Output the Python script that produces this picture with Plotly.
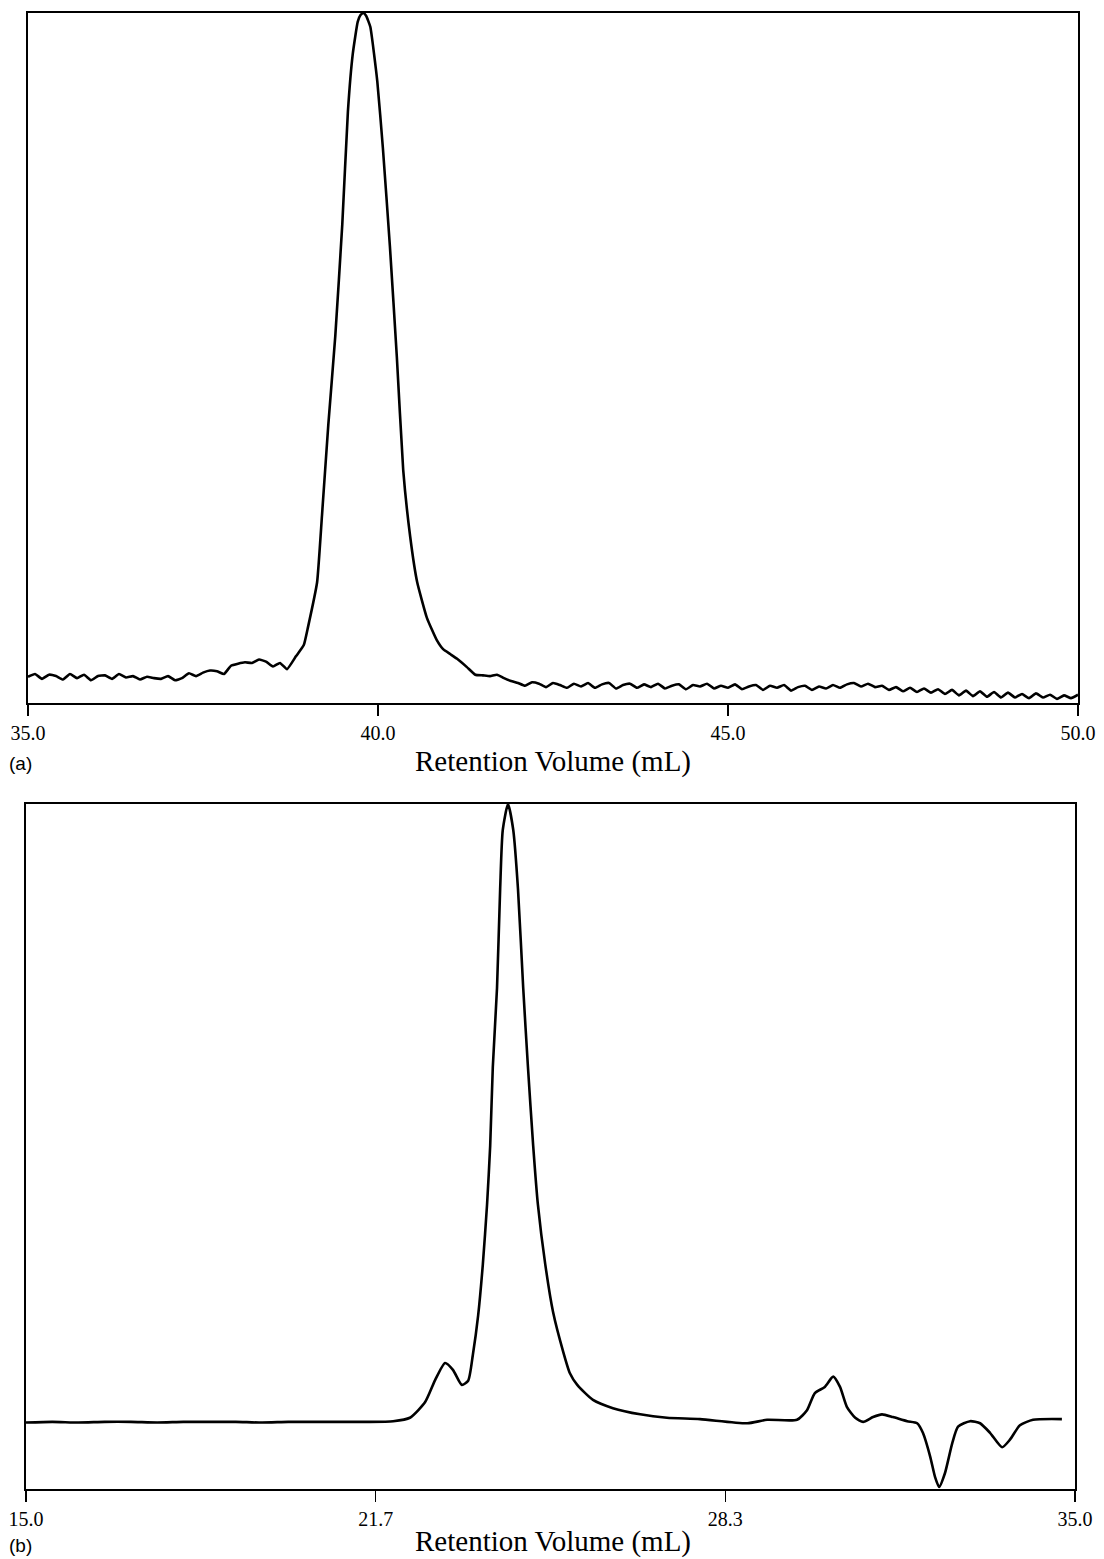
import plotly.graph_objects as go

W, H = 1104, 1559

# ---------------- Panel (a) data ----------------
a_base_left_x = [35.0, 35.1, 35.2, 35.3, 35.4, 35.5, 35.6, 35.7, 35.8, 35.9,
                 36.0, 36.1, 36.2, 36.3, 36.4, 36.5, 36.6, 36.7, 36.8, 36.9,
                 37.0, 37.1, 37.2, 37.3, 37.4, 37.5, 37.6, 37.7, 37.8, 37.9,
                 38.0, 38.1, 38.2, 38.3, 38.4, 38.5, 38.6, 38.7]
a_base_left_y = [3.8, 4.2, 3.5, 4.1, 3.9, 3.4, 4.2, 3.6, 4.1, 3.3,
                 3.9, 4.0, 3.5, 4.2, 3.7, 3.9, 3.4, 3.8, 3.6, 3.5,
                 3.9, 3.3, 3.6, 4.3, 3.9, 4.4, 4.7, 4.6, 4.2, 5.4,
                 5.7, 5.9, 5.8, 6.3, 6.0, 5.3, 5.8, 4.9]

a_peak_x = [38.83, 38.94, 39.00, 39.13, 39.20, 39.29, 39.39, 39.49, 39.57, 39.64,
            39.71, 39.75, 39.79, 39.83, 39.89, 39.99, 40.07, 40.17, 40.27, 40.36,
            40.46, 40.56, 40.70, 40.84, 40.93, 41.03, 41.13, 41.27, 41.39]
a_peak_y = [6.8, 8.4, 11.0, 17.5, 27.2, 40.3, 53.2, 69.4, 85.7, 94.1,
            98.7, 99.7, 100.0, 99.6, 98.0, 90.1, 80.4, 66.2, 50.0, 33.8,
            24.1, 17.5, 12.3, 9.1, 7.8, 7.1, 6.4, 5.2, 4.1]

a_base_right_x = [41.5, 41.6, 41.7, 41.8, 41.9,
                  42.0, 42.1, 42.2, 42.3, 42.4, 42.5, 42.6, 42.7, 42.8, 42.9,
                  43.0, 43.1, 43.2, 43.3, 43.4, 43.5, 43.6, 43.7, 43.8, 43.9,
                  44.0, 44.1, 44.2, 44.3, 44.4, 44.5, 44.6, 44.7, 44.8, 44.9,
                  45.0, 45.1, 45.2, 45.3, 45.4, 45.5, 45.6, 45.7, 45.8, 45.9,
                  46.0, 46.1, 46.2, 46.3, 46.4, 46.5, 46.6, 46.7, 46.8, 46.9,
                  47.0, 47.1, 47.2, 47.3, 47.4, 47.5, 47.6, 47.7, 47.8, 47.9,
                  48.0, 48.1, 48.2, 48.3, 48.4, 48.5, 48.6, 48.7, 48.8, 48.9,
                  49.0, 49.1, 49.2, 49.3, 49.4, 49.5, 49.6, 49.7, 49.8, 49.9, 50.0]
a_base_right_y = [4.0, 3.9, 4.1, 3.6, 3.2,
                  2.9, 2.5, 3.0, 2.8, 2.3, 2.9, 2.6, 2.2, 2.8, 2.4,
                  2.9, 2.2, 2.7, 2.9, 2.1, 2.6, 2.8, 2.2, 2.7, 2.3,
                  2.8, 2.1, 2.5, 2.7, 2.0, 2.6, 2.4, 2.8, 2.1, 2.5,
                  2.2, 2.7, 2.0, 2.4, 2.6, 1.9, 2.5, 2.2, 2.6, 1.8,
                  2.3, 2.5, 1.9, 2.4, 2.1, 2.6, 2.2, 2.7, 2.9, 2.4,
                  2.8, 2.3, 2.5, 1.9, 2.3, 1.7, 2.2, 1.6, 2.1, 1.5,
                  2.0, 1.3, 1.9, 1.1, 1.8, 1.0, 1.7, 0.9, 1.6, 0.8,
                  1.5, 0.8, 1.3, 0.7, 1.4, 0.8, 1.2, 0.6, 1.1, 0.7, 1.2]

a_x = a_base_left_x + a_peak_x + a_base_right_x
a_y = a_base_left_y + a_peak_y + a_base_right_y

a_tickvals = [35.0, 40.0, 45.0, 50.0]
a_ticktext = ["35.0", "40.0", "45.0", "50.0"]

# ---------------- Panel (b) data ----------------
b_x = [15.0, 15.5, 16.0, 16.5, 17.0, 17.5, 18.0, 18.5, 19.0, 19.5,
       20.0, 20.5, 21.0, 21.5, 22.0, 22.32, 22.61, 22.80, 22.99, 23.14,
       23.31, 23.43, 23.52, 23.62, 23.71, 23.79, 23.85, 23.90, 23.98, 24.04,
       24.09, 24.19, 24.29, 24.38, 24.48, 24.57, 24.67, 24.76, 24.90, 25.05,
       25.24, 25.37, 25.51, 25.81, 26.19, 26.71, 27.22, 27.85, 28.75, 29.13,
       29.70, 29.89, 30.04, 30.23, 30.39, 30.52, 30.65, 30.81, 30.96, 31.15,
       31.32, 31.53, 31.80, 31.99, 32.10, 32.24, 32.33, 32.41, 32.52, 32.66,
       32.77, 33.00, 33.19, 33.38, 33.61, 33.76, 33.95, 34.20, 34.75]
b_y = [9.7, 9.8, 9.7, 9.8, 9.8, 9.7, 9.8, 9.8, 9.8, 9.7,
       9.8, 9.8, 9.8, 9.8, 9.9, 10.4, 12.7, 15.9, 18.4, 17.4,
       15.2, 15.8, 19.6, 25.3, 32.8, 41.5, 50.1, 61.6, 73.1, 87.6,
       96.2, 100.0, 96.2, 87.6, 73.1, 61.6, 50.1, 41.5, 32.8, 25.8,
       20.1, 16.9, 15.2, 13.0, 11.8, 10.9, 10.4, 10.2, 9.6, 10.1,
       10.1, 11.5, 14.0, 14.9, 16.4, 14.9, 12.0, 10.4, 9.8, 10.5,
       10.9, 10.5, 9.9, 9.6, 8.2, 4.7, 1.8, 0.3, 2.3, 6.7,
       9.1, 9.9, 9.6, 8.2, 6.1, 7.2, 9.3, 10.1, 10.2]

b_tickvals = [15.0, 15.0 + 20.0 / 3, 15.0 + 40.0 / 3, 35.0]
b_ticktext = ["15.0", "21.7", "28.3", "35.0"]

x_title = "Retention Volume (mL)"

# ---------------- Figure ----------------
fig = go.Figure()
fig.add_trace(go.Scatter(x=a_x, y=a_y, mode="lines",
                         line=dict(color="black", width=2.6, shape="spline", smoothing=0.4),
                         xaxis="x", yaxis="y", hoverinfo="skip"))
fig.add_trace(go.Scatter(x=b_x, y=b_y, mode="lines",
                         line=dict(color="black", width=2.6, shape="spline", smoothing=0.6),
                         xaxis="x2", yaxis="y2", hoverinfo="skip"))


def px_x(p):
    return p / W


def px_y(p):
    return 1 - p / H


tickfont = dict(family="Liberation Serif", size=20, color="black")
common_x = dict(showline=True, linecolor="black", linewidth=2, mirror=True,
                ticks="outside", ticklen=11, tickwidth=1.5, tickcolor="black",
                showgrid=False, zeroline=False, tickfont=tickfont, automargin=False)
common_y = dict(showline=True, linecolor="black", linewidth=2, mirror=True,
                showticklabels=False, ticks="", showgrid=False, zeroline=False,
                range=[0, 100], automargin=False)

fig.update_layout(
    template="none",
    width=W, height=H,
    margin=dict(l=0, r=0, t=0, b=0, pad=0),
    paper_bgcolor="white", plot_bgcolor="white",
    showlegend=False,
    xaxis=dict(domain=[px_x(28), px_x(1078)], range=[35, 50],
               tickvals=a_tickvals, ticktext=a_ticktext, anchor="y", **common_x),
    yaxis=dict(domain=[px_y(703), px_y(13)], anchor="x", **common_y),
    xaxis2=dict(domain=[px_x(26), px_x(1075)], range=[15, 35],
                tickvals=b_tickvals, ticktext=b_ticktext, anchor="y2", **common_x),
    yaxis2=dict(domain=[px_y(1489), px_y(804)], anchor="x2", **common_y),
)

titlefont = dict(family="Liberation Serif", size=29, color="black")
labfont = dict(family="Liberation Sans", size=19, color="black")
fig.add_annotation(text=x_title, x=px_x(553), y=px_y(761), xref="paper", yref="paper",
                   showarrow=False, xanchor="center", yanchor="middle", font=titlefont)
fig.add_annotation(text=x_title, x=px_x(553), y=px_y(1541), xref="paper", yref="paper",
                   showarrow=False, xanchor="center", yanchor="middle", font=titlefont)
fig.add_annotation(text="(a)", x=px_x(7), y=px_y(764), xref="paper", yref="paper",
                   showarrow=False, xanchor="left", yanchor="middle", font=labfont)
fig.add_annotation(text="(b)", x=px_x(7), y=px_y(1545), xref="paper", yref="paper",
                   showarrow=False, xanchor="left", yanchor="middle", font=labfont)

fig.write_html("out.html",
               config={"displayModeBar": False, "staticPlot": True},
               post_script="document.body.style.margin='0';document.body.style.overflow='hidden';")
